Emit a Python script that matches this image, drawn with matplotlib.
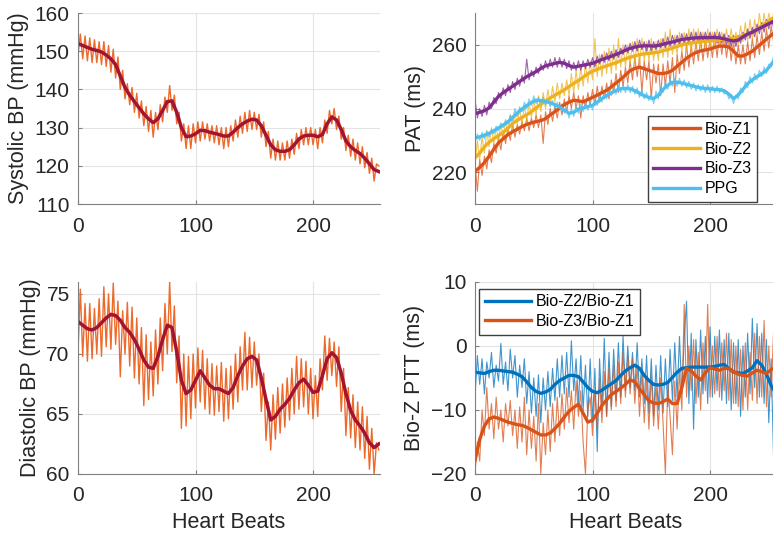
import numpy as np
import matplotlib
matplotlib.use("Agg")
import matplotlib.pyplot as plt

plt.rcParams['font.family'] = ['Liberation Sans', 'DejaVu Sans']

# smoothed curves, one value every 4 beats (0..256)
sys_smooth = [152.0, 151.5, 151.0, 150.5, 150.2, 149.8, 149.0, 148.0, 146.5, 143.5, 140.5, 138.5, 136.8,
              135.2, 133.6, 132.3, 131.3, 132.3, 134.5, 136.8, 137.0, 134.0, 130.0, 127.6, 127.8, 128.4,
              129.3, 129.2, 128.8, 128.5, 128.2, 127.8, 127.8, 128.8, 130.0, 131.0, 131.7, 132.2, 132.0,
              130.5, 128.0, 125.5, 124.2, 123.8, 123.8, 124.2, 125.5, 127.0, 127.8, 128.0, 128.0, 127.6,
              128.2, 131.0, 132.8, 132.0, 129.5, 126.5, 125.0, 124.0, 123.2, 122.0, 120.5, 119.0, 118.5]
dia_smooth = [72.7, 72.4, 72.1, 72.0, 72.2, 72.6, 73.0, 73.3, 73.2, 72.8, 72.2, 71.8, 71.2, 70.4, 69.5,
              68.9, 68.8, 69.8, 71.2, 72.4, 72.2, 70.2, 67.8, 66.7, 67.0, 67.8, 68.6, 68.0, 67.4, 67.1,
              67.1, 66.9, 66.7, 67.2, 68.2, 69.0, 69.6, 69.8, 69.5, 68.0, 66.2, 64.5, 64.8, 65.4, 65.8,
              66.3, 67.0, 67.6, 67.9, 67.4, 66.8, 66.9, 68.2, 69.6, 70.1, 69.7, 68.4, 66.7, 65.3, 64.5,
              64.0, 63.4, 62.6, 62.2, 62.5]
z1_smooth = [220.3, 221.5, 223.0, 225.0, 227.2, 229.2, 230.5, 231.8, 232.7, 233.5, 234.3, 235.0, 235.5,
             235.9, 236.2, 236.8, 238.0, 239.0, 240.2, 241.2, 242.0, 242.6, 242.4, 242.1, 242.8, 243.5,
             244.2, 245.0, 245.7, 246.8, 248.0, 249.2, 250.5, 251.9, 252.6, 253.0, 252.5, 252.0, 251.5,
             251.0, 251.0, 251.3, 252.0, 253.3, 254.5, 255.8, 256.8, 257.6, 258.1, 258.4, 258.7, 259.2,
             259.6, 259.6, 259.3, 258.0, 256.5, 256.5, 257.2, 258.0, 259.3, 260.5, 261.8, 263.0, 264.2]
z2_smooth = [224.5, 226.0, 228.0, 229.4, 230.5, 231.5, 232.5, 233.8, 235.3, 236.3, 237.2, 238.0, 239.0,
             240.2, 241.3, 242.4, 243.3, 244.2, 245.0, 245.9, 246.9, 247.9, 248.8, 249.8, 250.9, 251.7,
             252.3, 252.9, 253.4, 253.9, 254.4, 255.0, 255.6, 256.1, 256.5, 256.9, 257.2, 257.3, 257.5,
             257.7, 258.2, 258.5, 259.0, 259.5, 260.0, 260.4, 260.6, 260.8, 261.0, 261.1, 261.2, 261.4,
             261.6, 261.8, 262.0, 262.1, 262.4, 263.0, 263.5, 264.0, 265.0, 266.0, 267.0, 268.0, 268.8]
z3_smooth = [238.4, 238.8, 239.3, 240.2, 242.0, 243.8, 245.0, 246.0, 247.0, 248.0, 249.0, 250.0, 250.8,
             251.6, 252.6, 253.4, 253.8, 254.2, 254.5, 254.2, 253.5, 253.0, 253.3, 253.6, 253.9, 254.2,
             254.8, 255.4, 255.9, 256.4, 257.0, 257.6, 258.3, 258.9, 259.3, 259.6, 259.7, 259.7, 259.6,
             259.8, 260.2, 260.6, 260.9, 261.3, 261.7, 261.9, 262.1, 262.2, 262.3, 262.3, 262.3, 262.3,
             262.2, 261.9, 261.5, 261.2, 261.5, 262.5, 263.4, 264.0, 264.8, 265.5, 266.3, 267.0, 267.8]
ppg_smooth = [230.7, 231.1, 231.6, 232.2, 233.0, 233.9, 234.8, 235.8, 237.2, 238.6, 239.8, 240.9, 241.9,
              242.6, 242.5, 242.2, 241.8, 241.2, 240.5, 239.5, 238.5, 238.8, 239.8, 240.2, 240.6, 241.0,
              242.0, 243.1, 244.1, 244.9, 245.7, 246.2, 246.3, 246.2, 245.6, 244.8, 244.0, 243.5, 243.1,
              244.2, 246.0, 247.3, 248.2, 248.3, 248.0, 247.6, 247.2, 246.8, 246.5, 246.3, 246.2, 246.0,
              245.9, 245.6, 244.5, 243.1, 244.3, 246.0, 247.8, 249.0, 250.0, 250.9, 252.0, 253.8, 255.8]
ptt21_smooth = [-4.1, -4.2, -4.3, -4.0, -3.8, -3.8, -3.9, -4.0, -4.1, -4.4, -4.8, -5.6, -6.5, -7.1, -7.4,
                -7.2, -6.8, -6.0, -5.4, -5.0, -4.6, -4.6, -4.8, -5.6, -6.5, -7.1, -7.3, -6.9, -6.4, -5.9,
                -5.4, -4.6, -3.9, -3.4, -3.0, -3.5, -4.6, -5.4, -6.0, -6.1, -6.0, -5.7, -4.9, -4.1, -3.5,
                -3.4, -3.3, -3.3, -3.3, -3.3, -3.3, -3.2, -3.0, -2.9, -3.5, -4.1, -4.2, -4.3, -3.9, -3.4,
                -2.3, -3.0, -4.4, -6.2, -7.4]
ptt31_smooth = [-17.9, -14.6, -12.5, -11.4, -11.1, -11.3, -11.6, -11.9, -12.1, -12.3, -12.4, -12.7, -13.1,
                -13.5, -13.9, -13.9, -13.6, -12.9, -12.1, -11.1, -10.2, -9.6, -9.1, -10.5, -11.9, -11.6,
                -10.5, -9.3, -8.4, -7.6, -7.1, -6.6, -6.0, -5.3, -5.6, -6.7, -7.6, -8.6, -8.9, -9.0, -8.7,
                -8.3, -9.0, -9.0, -6.5, -3.5, -3.9, -4.7, -5.3, -4.2, -3.4, -3.6, -3.8, -3.5, -3.5, -4.0,
                -4.4, -4.6, -4.7, -4.2, -3.8, -4.0, -4.3, -3.7, -3.3]

# raw beat-to-beat values, one value every 2 beats (0..256)
sys_raw = [149, 154.5, 148, 154, 147.5, 153.5, 147, 153, 147, 152.5, 146.5, 152.5, 146, 151.5, 144.5, 150.5,
           143, 148.5, 140, 145, 137.5, 141.5, 136, 140.5, 134, 139, 132.5, 137, 130.5, 135.5, 129, 134.5,
           127.5, 134, 129.5, 136, 131.5, 138, 134, 141, 134.5, 138.5, 131, 134, 126.5, 131, 124.5, 130.5,
           124.5, 131, 126, 131.5, 126.5, 131.5, 127, 131, 126.5, 130.5, 126, 130.5, 125.5, 130, 124.5, 130,
           125, 130.5, 126.5, 132, 127.5, 133, 128.5, 134, 129, 134.5, 129.5, 134, 129.5, 133.5, 127.5,
           131.5, 125, 129, 122, 127, 121.5, 126.5, 121.5, 126, 121.5, 126.5, 122, 127, 123, 128.5, 124.5,
           129.5, 125.5, 130, 125.5, 130, 125.5, 129.5, 124.5, 130, 126, 132, 128.5, 134.5, 131, 135, 129.5,
           133, 127, 130, 124, 128, 122.5, 127, 121.5, 126, 120.5, 125, 119.5, 123.5, 118, 122, 116, 120.5,
           120]
dia_raw = [70.2, 75.4, 69.8, 74.2, 69.4, 74.2, 69.6, 73.8, 70.0, 74.6, 69.8, 75.6, 70.6, 75.0, 70.4, 75.9,
           70.8, 74.4, 68.1, 73.6, 70.0, 74.3, 69.0, 73.9, 68.0, 73.0, 67.5, 72.2, 65.7, 71.6, 66.2, 71.0,
           66.5, 72.0, 67.5, 73.0, 68.6, 74.2, 70.0, 76.0, 70.2, 74.0, 67.6, 71.5, 63.8, 70.0, 64.0, 69.8,
           64.6, 70.0, 65.5, 70.5, 66.0, 70.3, 65.4, 69.6, 65.0, 69.2, 64.9, 69.0, 65.2, 69.3, 64.4, 68.8,
           64.6, 69.0, 65.4, 70.0, 66.0, 70.6, 67.0, 71.8, 67.0, 71.4, 67.2, 71.0, 67.4, 70.0, 65.2, 68.4,
           62.8, 66.0, 62.0, 66.6, 62.9, 67.2, 63.4, 67.5, 63.9, 68.0, 64.5, 68.8, 65.0, 69.8, 65.4, 69.6,
           65.6, 69.4, 65.0, 68.8, 64.6, 68.2, 64.8, 69.6, 67.0, 71.5, 67.8, 71.3, 68.2, 71.0, 67.3, 70.6,
           65.2, 68.8, 63.2, 67.2, 63.0, 66.6, 62.2, 66.0, 62.0, 65.6, 61.3, 64.8, 60.4, 63.8, 60.0, 62.6,
           62.0]
z1_raw = [223, 214, 224, 219, 225, 221, 227, 223, 229, 226, 231, 227, 233, 229, 234, 230, 235, 231, 235, 232,
          236, 233, 237, 233, 237, 234, 238, 234, 238, 229, 239, 235, 240, 236, 241, 237, 242, 238, 243, 239,
          244, 240, 245, 240, 244, 237, 244, 240, 245, 241, 246, 241, 247, 242, 247, 243, 248, 243, 249, 245,
          251, 245, 252, 247, 253, 248, 255, 249, 256, 250, 256, 245, 255, 249, 255, 243, 254, 248, 254, 244,
          254, 247, 255, 248, 256, 245, 257, 251, 258, 252, 260, 253, 260, 254, 261, 255, 262, 255, 262, 256,
          262, 256, 263, 256, 263, 257, 263, 256, 262, 255, 261, 254, 260, 254, 260, 254, 261, 255, 262, 256,
          263, 257, 264, 258, 265, 259, 266, 261, 266]
z2_raw = [222, 230, 224, 231, 226, 233, 228, 234, 229, 234, 230, 235, 231, 236, 232, 238, 233, 239, 235, 240,
          235, 241, 236, 242, 237, 243, 238, 244, 239, 245, 240, 246, 241, 247, 242, 248, 243, 248, 244, 249,
          244, 251, 245, 252, 246, 253, 247, 254, 248, 255, 249, 262, 250, 257, 250, 258, 251, 259, 251, 260,
          252, 262, 253, 260, 253, 260, 254, 261, 254, 262, 254, 262, 255, 261, 255, 262, 255, 261, 255, 262,
          256, 264, 256, 265, 257, 263, 257, 264, 258, 264, 258, 265, 258, 265, 259, 265, 259, 264, 259, 265,
          259, 264, 259, 265, 260, 264, 260, 265, 260, 265, 260, 264, 260, 266, 261, 267, 261, 268, 262, 268,
          263, 270, 264, 270, 265, 270, 266, 270, 267]
z3_raw = [243, 237, 240, 237.5, 241, 238, 242, 240, 243.5, 241.5, 245, 243, 246.5, 244, 247.5, 245, 248.5,
          246, 249.5, 247, 250.5, 248, 255.5, 249, 252, 250, 253, 251, 254, 252, 255, 252.5, 255.5, 253, 256,
          253, 256, 253, 255.5, 252.5, 255, 252, 254.5, 252, 255, 252, 255, 252.5, 255.5, 253, 256, 253,
          256.5, 254, 257, 254.5, 257.5, 255, 258, 255.5, 258.5, 256, 259, 257, 260, 257.5, 260.5, 258, 261,
          258, 261.5, 258.5, 261, 258, 261.5, 258, 261, 258.5, 261.5, 259, 262, 259, 262.5, 259.5, 263, 260,
          263, 260, 263.5, 260.5, 263.5, 260.5, 264, 260.5, 264, 260.5, 264, 261, 264, 261, 264, 261, 264,
          260.5, 264, 260.5, 263.5, 260, 263, 259.5, 263, 259.5, 263, 260.5, 264, 261.5, 265, 262, 265.5,
          262.5, 266.5, 263.5, 267, 264, 268, 265, 268.5, 265.5, 269]
ppg_raw = [229.5, 232, 230, 232.5, 230.5, 233, 231, 233.5, 232, 234.5, 233, 235.5, 234, 236.5, 235, 238, 236,
           240, 237.5, 240.5, 239, 242, 240, 243, 241, 244, 241.5, 243.5, 241.5, 243.5, 241, 243, 240.5,
           242.5, 240, 242, 239.5, 241.5, 238.5, 240, 237, 240, 237.5, 241, 238.5, 241.5, 239, 242, 239.5,
           242, 239.5, 243, 241, 244.5, 242, 245.5, 243, 246, 244, 246.5, 244.5, 247.5, 245, 247.5, 245,
           247.5, 245, 247, 244.5, 246.5, 243.5, 246, 243, 245, 242.5, 244.5, 241.5, 245.5, 243, 247, 245,
           248.5, 246, 249.5, 247, 249.5, 247, 249.5, 247, 249, 246.5, 248.5, 246, 248, 245.5, 247.5, 245.5,
           247.5, 245, 247.5, 245, 247, 245, 247, 245, 246.5, 244.5, 245.5, 243, 244.5, 241.5, 244, 243,
           246.5, 245, 248.5, 246.5, 250, 248, 251, 249, 252, 250, 253, 251, 254, 253, 256.5, 255]
ptt21_raw = [-8, -1.5, -6, -2, -7.5, -2.5, -5, -1, -6.5, -3, -5.5, 0.4, -6, -2.5, -7, -0.5, -5, -1.5, -8, -3,
             -6.5, -2, -9, -4, -10.5, -5, -11, -4.5, -12, -5, -10, -4, -9.5, -3.5, -8.5, -2, -8, -1.5, -7.5,
             -1, -8, 0.8, -7, -2, -9, -1.5, -10, -3, -11, -2, -12, -3.5, -16.5, -2, -10, 1.2, -11, -1, -9.5,
             -0.5, -8.5, 0.5, -8, 1.5, -7, 0, -6.5, -1, -7, 0.5, -8, -2, -9, -1.5, -10.5, -2, -11, -3, -10,
             -1.5, -10.5, -2, -9.5, -0.5, -8.5, 0.5, -8, 1.5, -7.5, 1, 7, -9, 2, -13, 1, -8, 2.5, -7.5, 1.5,
             -9, 3, -8, 1.5, -7, 2.5, -8.5, 1, -9, 2, -10, 0.5, -9, 1, -11, 0, -8, 2, -7.5, 4.3, -6.5, 3.5,
             -8, 2, -9, 1, -12, -2, -17, -4]
ptt31_raw = [-20, -15, -18, -10, -14, -6.5, -13, -9, -14.5, -8, -13, -10, -15, -9, -12.5, -8.5, -14, -10, -16,
             -9.5, -15, -8, -17, -10, -16, -11, -18, -9, -20, -12, -17, -10, -16.5, -9, -15, -8, -14, -7.5,
             -13, -6.5, -12, -7, -13, -5.5, -11, -7, -15, -20, -10, -8, -14, -7, -13, -5, -12, -4, -11, -3.5,
             -10, -3, -9.5, -2.5, -9, -1, -8, -1.5, -7.5, -2, -9, -3, -11, -4, -12, -5, -13, -4.5, -12.5, -6,
             -13, -5, -12, -20, -6, -11, -17, -5.5, -13, -4, -10, 6.5, -8, 0, -7, 1, -9, -1, -10, 0.5, -7,
             6.5, -8, 0, -7.5, 1.5, -8, 0.5, -7, 2, -8.5, 1, -9, 0, -9.5, -0.5, -10, 0.5, -10, -1, -8.5, 2,
             -9, 1.5, -8, 4, -9.5, 0, -8, 2, -6]

beats_s = np.arange(len(sys_smooth)) * 4
beats_r = np.arange(len(sys_raw)) * 2

c_orange = '#D95319'
c_raw = '#EC6A2C'
c_dark = '#A2142F'
c_yellow = '#EDB120'
c_purple = '#7E2F8E'
c_cyan = '#4DBEEE'
c_blue = '#0072BD'

fig = plt.figure(figsize=(7.73, 5.38), dpi=100)
ax1 = fig.add_axes([0.1009, 0.6208, 0.3907, 0.3550])
ax2 = fig.add_axes([0.6145, 0.6208, 0.3907, 0.3550])
ax3 = fig.add_axes([0.1009, 0.1190, 0.3907, 0.3569])
ax4 = fig.add_axes([0.6145, 0.1190, 0.3907, 0.3569])

leg_style = dict(fontsize=11.5, handlelength=2.9, labelspacing=0.3, borderpad=0.35,
                 handletextpad=0.3, borderaxespad=0, fancybox=False, framealpha=1,
                 edgecolor='#404040')

# Systolic
ax1.plot(beats_r, sys_raw, color=c_raw, lw=1.0)
ax1.plot(beats_s, sys_smooth, color=c_dark, lw=2.5)
ax1.set_ylim(110, 160)
ax1.set_yticks([110, 120, 130, 140, 150, 160])
ax1.set_ylabel('Systolic BP (mmHg)')

# PAT
ax2.plot(beats_r, z1_raw, color=c_orange, lw=0.8, alpha=0.75)
ax2.plot(beats_r, z2_raw, color=c_yellow, lw=0.8, alpha=0.75)
ax2.plot(beats_r, z3_raw, color=c_purple, lw=0.8, alpha=0.75)
ax2.plot(beats_r, ppg_raw, color=c_cyan, lw=0.8, alpha=0.75)
ax2.plot(beats_s, z1_smooth, color=c_orange, lw=2.4, label='Bio-Z1')
ax2.plot(beats_s, z2_smooth, color=c_yellow, lw=2.4, label='Bio-Z2')
ax2.plot(beats_s, z3_smooth, color=c_purple, lw=2.4, label='Bio-Z3')
ax2.plot(beats_s, ppg_smooth, color=c_cyan, lw=2.4, label='PPG')
ax2.set_ylim(210, 270)
ax2.set_yticks([220, 240, 260])
ax2.set_ylabel('PAT (ms)')
ax2.legend(loc='lower right', bbox_to_anchor=(0.934, 0.012), **leg_style)

# Diastolic
ax3.plot(beats_r, dia_raw, color=c_raw, lw=1.0)
ax3.plot(beats_s, dia_smooth, color=c_dark, lw=2.5)
ax3.set_ylim(60, 76)
ax3.set_yticks([60, 65, 70, 75])
ax3.set_ylabel('Diastolic BP (mmHg)')
ax3.set_xlabel('Heart Beats', labelpad=5)

# PTT
ax4.plot(beats_r, ptt21_raw, color=c_blue, lw=0.8, alpha=0.75)
ax4.plot(beats_r, ptt31_raw, color=c_orange, lw=0.8, alpha=0.75)
ax4.plot(beats_s, ptt21_smooth, color=c_blue, lw=2.4, label='Bio-Z2/Bio-Z1')
ax4.plot(beats_s, ptt31_smooth, color=c_orange, lw=2.4, label='Bio-Z3/Bio-Z1')
ax4.set_ylim(-20, 10)
ax4.set_yticks([-20, -10, 0, 10])
ax4.set_ylabel('Bio-Z PTT (ms)')
ax4.set_xlabel('Heart Beats', labelpad=5)
ax4.legend(loc='upper left', bbox_to_anchor=(0.013, 0.965), **leg_style)

for ax in (ax1, ax2, ax3, ax4):
    ax.set_xlim(0, 257)
    ax.set_xticks([0, 100, 200])
    ax.grid(True, color='#e3e3e3', lw=0.8)
    ax.set_axisbelow(True)
    ax.spines['top'].set_visible(False)
    ax.spines['right'].set_visible(False)
    ax.spines['left'].set_color('#808080')
    ax.spines['bottom'].set_color('#808080')
    ax.tick_params(direction='in', length=3, color='#808080', labelsize=15, labelcolor='#262626', pad=6)
    ax.tick_params(axis='x', pad=9)
    ax.yaxis.label.set_size(15.5)
    ax.yaxis.label.set_color('#262626')
    ax.xaxis.label.set_size(15.5)
    ax.xaxis.label.set_color('#262626')

plt.savefig('out.png', dpi=100)
